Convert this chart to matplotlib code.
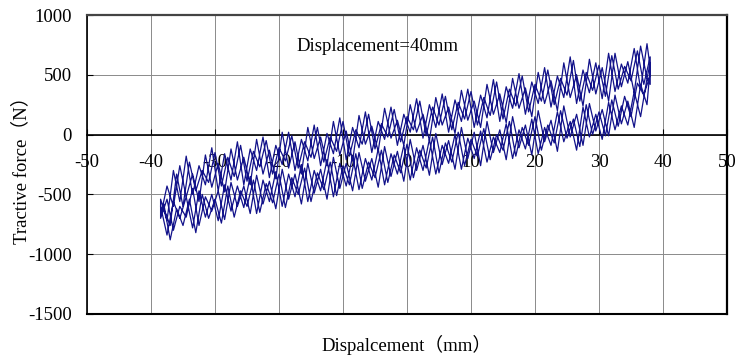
import matplotlib
matplotlib.use('Agg')
import matplotlib.pyplot as plt

plt.rcParams['axes.unicode_minus'] = False
serif = ['Liberation Serif', 'Noto Sans CJK SC']

# displacement sampling points (mm)
disp_a = [-38.5, -37.5, -36.5, -35.5, -34.5, -33.5, -32.5, -31.5, -30.5, -29.5,
          -28.5, -27.5, -26.5, -25.5, -24.5, -23.5, -22.5, -21.5, -20.5, -19.5,
          -18.5, -17.5, -16.5, -15.5, -14.5, -13.5, -12.5, -11.5, -10.5, -9.5,
          -8.5, -7.5, -6.5, -5.5, -4.5, -3.5, -2.5, -1.5, -0.5, 0.5,
          1.5, 2.5, 3.5, 4.5, 5.5, 6.5, 7.5, 8.5, 9.5, 10.5,
          11.5, 12.5, 13.5, 14.5, 15.5, 16.5, 17.5, 18.5, 19.5, 20.5,
          21.5, 22.5, 23.5, 24.5, 25.5, 26.5, 27.5, 28.5, 29.5, 30.5,
          31.5, 32.5, 33.5, 34.5, 35.5, 36.5, 37.5, 38.0]
disp_b = [-38, -37, -36, -35, -34, -33, -32, -31, -30, -29,
          -28, -27, -26, -25, -24, -23, -22, -21, -20, -19,
          -18, -17, -16, -15, -14, -13, -12, -11, -10, -9,
          -8, -7, -6, -5, -4, -3, -2, -1, 0, 1,
          2, 3, 4, 5, 6, 7, 8, 9, 10, 11,
          12, 13, 14, 15, 16, 17, 18, 19, 20, 21,
          22, 23, 24, 25, 26, 27, 28, 29, 30, 31,
          32, 33, 34, 35, 36, 37, 38]

# loading branches (moving right), force in N
lower1 = [-600, -840, -560, -700, -520, -780, -470, -690, -500, -720,
          -420, -640, -430, -610, -350, -660, -380, -560, -310, -600,
          -330, -520, -250, -560, -300, -470, -210, -520, -240, -430,
          -180, -460, -200, -380, -120, -420, -160, -330, -90, -380,
          -110, -300, -40, -330, -90, -240, 0, -290, -30, -200,
          30, -230, -20, -150, 90, -200, 40, -120, 130, -160,
          60, -90, 190, -60, 110, -130, 230, -20, 170, -40,
          270, 40, 240, 80, 360, 150, 470, 420]
lower2 = [-700, -540, -800, -600, -690, -450, -760, -520, -640, -470,
          -710, -400, -600, -430, -660, -340, -580, -390, -620, -290,
          -540, -330, -580, -240, -490, -290, -540, -190, -450, -240,
          -470, -150, -390, -200, -440, -100, -350, -140, -390, -40,
          -300, -90, -340, 10, -250, -50, -290, 60, -200, 20,
          -260, 110, -150, 40, -210, 150, -110, 80, -170, 200,
          -60, 120, -140, 240, -20, 170, -90, 260, 30, 210,
          -10, 330, 90, 280, 60, 420, 250, 560]
lower3 = [-580, -880, -620, -760, -540, -820, -500, -700, -540, -740,
          -430, -690, -470, -600, -380, -650, -410, -570, -330, -610,
          -360, -500, -280, -560, -320, -460, -230, -510, -260, -420,
          -160, -450, -230, -360, -130, -400, -170, -320, -80, -360,
          -130, -280, -20, -320, -70, -230, 20, -260, -40, -180,
          50, -210, 0, -130, 110, -180, 60, -90, 150, -130,
          80, -70, 200, -30, 130, -100, 250, 0, 190, -10,
          290, 70, 320, 150, 430, 330, 500]

# unloading branches (moving left), stored left to right
upper1 = [-540, -720, -300, -560, -180, -500, -260, -420, -110, -470,
          -160, -380, -60, -420, -120, -300, -20, -360, -90, -250,
          20, -300, -40, -220, 80, -260, 10, -160, 140, -210,
          60, -110, 190, -150, 110, -40, 230, -90, 170, 20,
          300, -30, 250, 60, 340, 20, 290, 110, 380, 60,
          330, 140, 460, 110, 400, 220, 510, 170, 440, 260,
          560, 230, 490, 310, 650, 260, 540, 350, 600, 300,
          680, 360, 590, 430, 720, 380, 760, 560]
upper2 = [-680, -430, -600, -260, -520, -330, -560, -170, -440, -240,
          -480, -120, -380, -190, -420, -40, -330, -130, -370, 20,
          -280, -60, -330, 60, -200, -20, -260, 110, -170, 30,
          -220, 160, -80, 70, -140, 220, -30, 120, -90, 250,
          20, 170, -50, 310, 80, 230, 10, 370, 120, 280,
          60, 420, 170, 340, 100, 470, 220, 390, 150, 520,
          260, 450, 200, 600, 310, 500, 240, 630, 340, 560,
          280, 680, 400, 610, 350, 740, 470, 600]
upper3 = [-620, -760, -330, -600, -230, -470, -300, -400, -150, -430,
          -190, -350, -90, -390, -140, -270, -50, -330, -110, -220,
          -10, -280, -60, -190, 60, -230, -20, -140, 110, -180,
          40, -80, 170, -120, 90, -20, 210, -60, 150, 40,
          280, -10, 230, 80, 320, 40, 270, 130, 360, 80,
          310, 160, 440, 130, 380, 240, 490, 190, 420, 280,
          540, 250, 470, 330, 620, 280, 520, 370, 580, 320,
          660, 380, 570, 450, 700, 420, 650]

cycles = [(disp_a, lower1, upper1), (disp_a, lower2, upper2), (disp_b, lower3, upper3)]
x_all, y_all = [], []
for d, lo, up in cycles:
    x_all += d + d[::-1]
    y_all += lo + up[::-1]

fig = plt.figure(figsize=(7.37, 3.61), dpi=100)
ax = fig.add_axes([87 / 737, 47 / 361, 640 / 737, 299 / 361])

ax.plot(x_all, y_all, color='#12128a', lw=0.9, zorder=3)

ax.set_xlim(-50, 50)
ax.set_ylim(-1500, 1000)
ax.set_xticks(range(-50, 51, 10))
ax.set_yticks(range(-1500, 1001, 500))
ax.grid(True, color='#8a8a8a', lw=0.7)
ax.set_axisbelow(True)

# x axis sits on the zero line, plain frame line at the bottom
ax.spines['bottom'].set_position(('data', 0))
ax.spines['bottom'].set_linewidth(1.2)
ax.plot([-50, 50], [-1500, -1500], color='black', lw=1.5, clip_on=False, zorder=4)
ax.spines['left'].set_linewidth(1.2)
ax.spines['top'].set_color('#444444')
ax.spines['top'].set_linewidth(1.6)
ax.spines['right'].set_linewidth(1.6)

ax.tick_params(axis='x', direction='in', length=4, pad=14, labelsize=13.5)
ax.tick_params(axis='y', direction='in', length=4, pad=11, labelsize=13.5)
for lab in ax.get_xticklabels() + ax.get_yticklabels():
    lab.set_fontfamily(serif)

ax.text(-17.3, 733, 'Displacement=40mm', fontsize=13.5, fontfamily=serif,
        ha='left', va='center')

fig.text(407 / 737, 1 - 345 / 361, 'Dispalcement（mm）', fontsize=13.5,
         fontfamily=serif, ha='center', va='center')
fig.text(21 / 737, 1 - 166 / 361, 'Tractive force（N）', fontsize=13.5,
         fontfamily=serif, ha='center', va='center', rotation=90)

fig.savefig('out.png', dpi=100)
